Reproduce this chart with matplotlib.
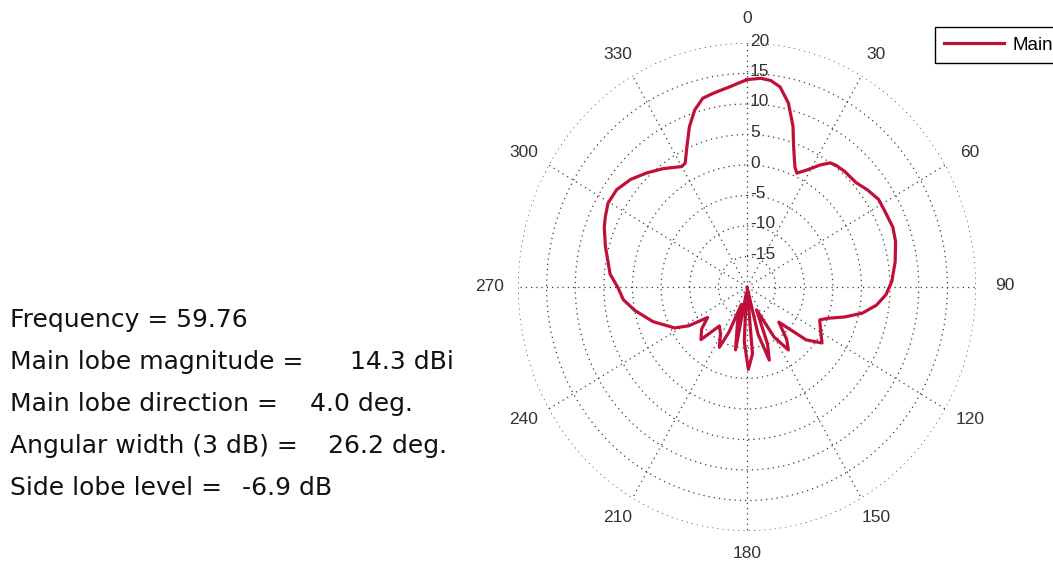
import numpy as np
import matplotlib
matplotlib.use("Agg")
import matplotlib.pyplot as plt
from matplotlib.transforms import offset_copy

# farfield cut, angle clockwise from top (deg) and gain (dB)
theta_deg = [0, 4, 7, 10, 13.5, 17, 19.5, 23, 25, 28.5, 32.5, 35.5, 38, 42, 48, 53, 58, 63,
             69, 74, 81, 88, 93, 97.5, 102, 106, 110, 113, 119, 125, 130, 136, 141, 145,
             150, 156, 159, 162, 166, 170, 175, 179, 183, 187, 191, 196, 199, 203, 206,
             211, 217, 223, 229, 234, 238, 242, 251, 259, 264.5, 270, 275, 285, 291.5,
             295, 299.5, 305, 311, 317, 323, 330, 332, 335.5, 339, 342.5, 346, 349.5,
             355, 360]
gain_db = [14.0, 14.3, 14.1, 13.3, 11.0, 7.5, 4.4, 1.4, 0.6, 1.8, 3.7, 5.0, 5.3, 5.5, 5.6,
           6.4, 7.1, 7.1, 7.3, 7.0, 6.2, 5.3, 4.3, 2.8, 0.6, -2.2, -5.0, -6.2, -5.3, -4.0,
           -6.5, -12.0, -9.0, -7.4, -10.5, -15.9, -10.0, -7.4, -12.0, -20.0, -9.0, -6.5,
           -11.0, -19.0, -9.5, -14.0, -17.0, -12.0, -9.0, -11.0, -12.0, -8.2, -9.5, -11.5,
           -8.0, -5.7, -2.6, 0.0, 1.7, 2.6, 4.0, 5.6, 6.8, 7.3, 7.9, 7.8, 6.9, 5.6, 4.3,
           2.8, 3.0, 5.3, 8.1, 10.4, 11.9, 12.3, 13.0, 14.0]

r_ticks = [-15, -10, -5, 0, 5, 10, 15, 20]
angle_ticks = [0, 30, 60, 90, 120, 150, 180, 210, 240, 270, 300, 330]

info_labels = ["Main lobe magnitude =", "Main lobe direction =",
               "Angular width (3 dB) =", "Side lobe level ="]
info_values = ["14.3 dBi", "4.0 deg.", "26.2 deg.", "-6.9 dB"]
info_value_x = [350, 310, 328, 242]

W, H = 1053, 565
fig = plt.figure(figsize=(W / 100, H / 100), dpi=100)
fig.patch.set_facecolor("white")

cx, cy, rx, ry = 747, 287, 229, 244
ax = fig.add_axes([(cx - rx) / W, (H - cy - ry) / H, 2 * rx / W, 2 * ry / H],
                  projection="polar")
ax.set_theta_zero_location("N")
ax.set_theta_direction(-1)
ax.set_ylim(-20, 20)
ax.set_aspect("auto")
ax.set_yticks(r_ticks)
ax.set_yticklabels([])
ax.set_xticks(np.deg2rad(angle_ticks))
ax.set_xticklabels([])
ax.grid(True, color="#3a3a3a", linestyle=(0, (1, 3.2)), linewidth=0.9)
ax.spines["polar"].set_visible(False)
ax.set_facecolor("white")

line, = ax.plot(np.deg2rad(theta_deg), gain_db, color="#c0103a", lw=2.3, label="Main")

tick_font = dict(family="Liberation Sans", fontsize=12.5, color="#333333")
for a in angle_ticks:
    # labels sit a bit further out sideways than vertically
    tr = offset_copy(ax.transData, fig=fig, x=7 * np.sin(np.deg2rad(a)), y=1, units="dots")
    ax.text(np.deg2rad(a), -20 + 40 * 1.095, str(a), transform=tr,
            ha="center", va="center", **tick_font)

rl_trans = offset_copy(ax.transData, fig=fig, x=3, y=2, units="dots")
for r in r_ticks:
    ax.text(0, r, str(r), transform=rl_trans, ha="left", va="center", **tick_font)

leg = fig.legend(handles=[line], loc="upper left", bbox_to_anchor=(935 / W, 1 - 27 / H),
                 bbox_transform=fig.transFigure, fancybox=False, edgecolor="black",
                 framealpha=1, handlelength=3.2, prop={"family": "Liberation Sans", "size": 13.5},
                 borderpad=0.5, handletextpad=0.45, borderaxespad=0)
leg.get_frame().set_linewidth(1.0)

# info text block on the left
txt = dict(family="DejaVu Sans", fontsize=18, color="#111111", va="center")
fig.text(10 / W, 1 - 320 / H, "Frequency = 59.76", **txt)
for i, (lab, val, vx) in enumerate(zip(info_labels, info_values, info_value_x)):
    y = 1 - (362 + 42 * i) / H
    fig.text(10 / W, y, lab, **txt)
    fig.text(vx / W, y, val, **txt)

fig.savefig("out.png", dpi=100)
